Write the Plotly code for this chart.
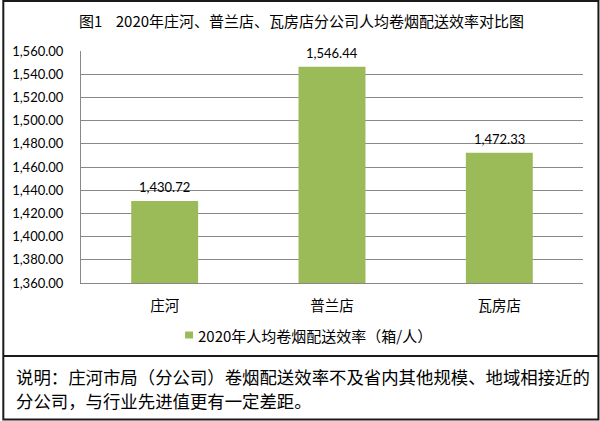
import plotly.graph_objects as go

categories = ["庄河", "普兰店", "瓦房店"]
values = [1430.72, 1546.44, 1472.33]
series_name = "2020年人均卷烟配送效率（箱/人）"
title_text = "图1\u00a0\u00a0\u00a0\u00a02020年庄河、普兰店、瓦房店分公司人均卷烟配送效率对比图"
note_lines = [
    "说明：庄河市局（分公司）卷烟配送效率不及省内其他规模、地域相接近的",
    "分公司，与行业先进值更有一定差距。",
]
y_min, y_max, y_step = 1360, 1560, 20
bar_color = "#9BBB59"

W, H = 600, 421
L, R, T, B = 79, 17, 51, 138
PW, PH = W - L - R, H - T - B

def px(x):
    return (x - L) / PW

def py(y):
    return (H - B - y) / PH

CJK = "Noto Sans CJK SC"
LAT = "Lato"

fig = go.Figure()
fig.add_trace(go.Bar(
    x=categories, y=values, name=series_name,
    marker=dict(color=bar_color, line=dict(width=0)),
    showlegend=False,
))

for c, v in zip(categories, values):
    fig.add_annotation(x=c, y=v, xref="x", yref="y", text=f"{v:,.2f}",
                       showarrow=False, yanchor="bottom", yshift=4,
                       font=dict(family=LAT, size=13, color="#000"))

fig.add_annotation(x=px(300), y=py(21), xref="paper", yref="paper",
                   text=title_text, showarrow=False, xanchor="center", yanchor="middle",
                   font=dict(family=CJK, size=15, color="#000"))

for i, line in enumerate(note_lines):
    fig.add_annotation(x=px(12), y=py(376 + 24 * i), xref="paper", yref="paper",
                       text=line, showarrow=False, xanchor="left", yanchor="middle",
                       font=dict(family=CJK, size=17.4, color="#000"))

# legend (manual, to match the small square marker)
fig.add_shape(type="rect", xref="paper", yref="paper",
              x0=px(183.5), x1=px(191.5), y0=py(331.5), y1=py(338.5),
              fillcolor=bar_color, line=dict(width=0))
fig.add_annotation(x=px(194), y=py(335), xref="paper", yref="paper",
                   text=series_name, showarrow=False, xanchor="left", yanchor="middle",
                   font=dict(family=CJK, size=15, color="#000"))

# outer border and separator
fig.add_shape(type="rect", xref="paper", yref="paper",
              x0=px(1), x1=px(598.5), y0=py(1), y1=py(419.5),
              line=dict(color="#1a1a1a", width=2), layer="above")
fig.add_shape(type="line", xref="paper", yref="paper",
              x0=px(1), x1=px(598.5), y0=py(356), y1=py(356),
              line=dict(color="#1a1a1a", width=2), layer="above")

fig.update_layout(
    width=W, height=H,
    margin=dict(l=L, r=R, t=T, b=B),
    paper_bgcolor="white", plot_bgcolor="white",
    bargap=0.6,
    showlegend=False,
    xaxis=dict(showgrid=False, showline=True, linecolor="#888888", linewidth=1,
               ticks="", tickfont=dict(family=CJK, size=14.5, color="#000"),
               ticklabelstandoff=10, fixedrange=True),
    yaxis=dict(range=[y_min, y_max], dtick=y_step, tick0=y_min,
               tickformat=",.2f", showgrid=True, gridcolor="#888888", gridwidth=1,
               showline=True, linecolor="#888888", linewidth=1, zeroline=False,
               ticks="", tickfont=dict(family=LAT, size=13, color="#000"),
               ticklabelstandoff=14),
)

fig.write_html("out.html")
